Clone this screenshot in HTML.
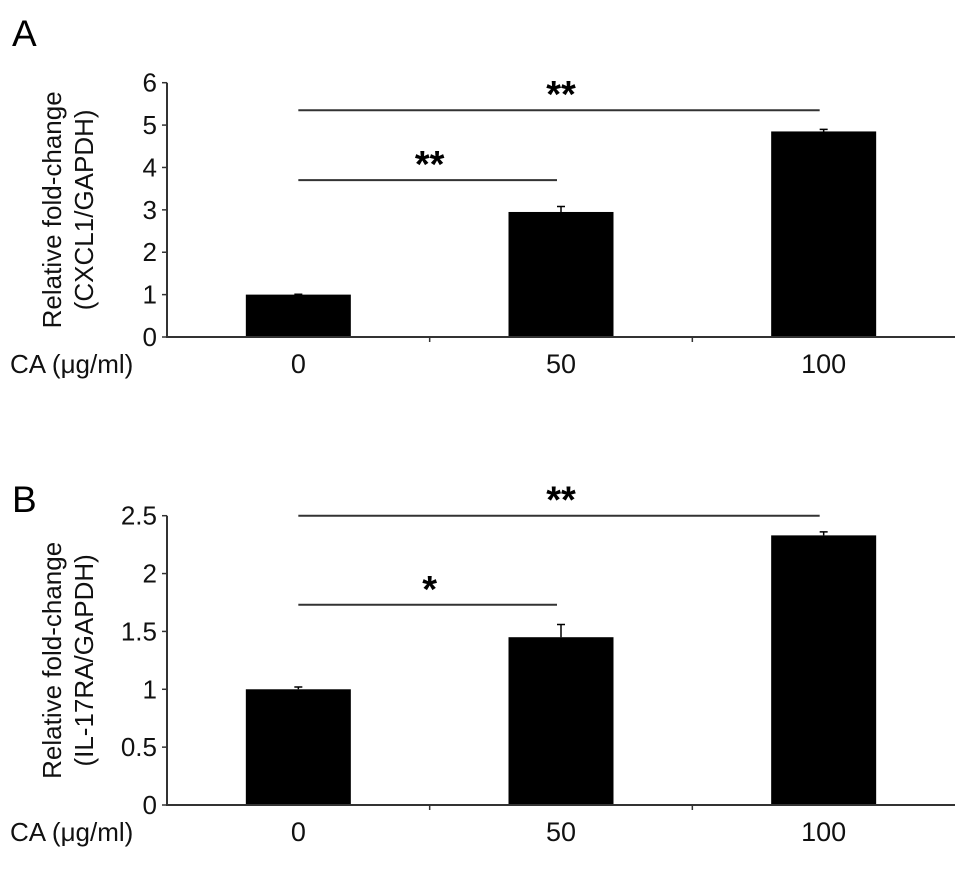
<!DOCTYPE html>
<html><head><meta charset="utf-8"><style>
html,body{margin:0;padding:0;background:#fff;}
svg{display:block;font-family:"Liberation Sans",Arial,sans-serif;}
</style></head><body>
<svg id="fig" width="969" height="872" viewBox="0 0 969 872"></svg>
<script>
const categories = ["0","50","100"];
const valuesA = [1.0, 2.95, 4.85];
const errorsA = [0.01, 0.13, 0.05];
const ticksA = [0,1,2,3,4,5,6];
const valuesB = [1.0, 1.45, 2.33];
const errorsB = [0.02, 0.11, 0.03];
const ticksB = [0,0.5,1,1.5,2,2.5];
const sigA = [{from:0,to:1,label:"**",level:3.7},{from:0,to:2,label:"**",level:5.35}];
const sigB = [{from:0,to:1,label:"*",level:1.73},{from:0,to:2,label:"**",level:2.5}];

const svg = document.getElementById('fig');
const NS = "http://www.w3.org/2000/svg";
function mk(tag, attrs, parent){const e=document.createElementNS(NS,tag);for(const k in attrs)e.setAttribute(k,attrs[k]);(parent||svg).appendChild(e);return e;}

function panel(cfg){
  const g = mk('g',{});
  
  
  const x0=167, x1=955, y0=cfg.y0, yTop=cfg.yTop, max=cfg.ticks[cfg.ticks.length-1];
  const yS = v => y0 - (v/max)*(y0-yTop);
  const band = (x1-x0)/categories.length;
  const xC = i => x0 + band*(i+0.5);
  const bw = 105;
  const L = mk('text',{x:12,y:cfg.letterY,'font-size':37,fill:'#000'},g); L.textContent=cfg.letter;
  
  
  cfg.values.forEach((v,i)=>{
    const r = mk('rect',{x:xC(i)-bw/2,y:yS(v),width:bw,height:y0-yS(v),fill:'#000'},g);
    
    
    const e = cfg.errors[i];
    const eb = mk('path',{d:`M${xC(i)} ${yS(v)} V${yS(v+e)} M${xC(i)-4} ${yS(v+e)} H${xC(i)+4}`,stroke:'#000','stroke-width':1.5,fill:'none'},g);
    
    
  });
  const ax = mk('path',{d:`M${x0} ${yTop} V${y0} H${x1}`,stroke:'#333','stroke-width':2,fill:'none'},g);
  
  
  cfg.ticks.forEach(t=>{
    mk('line',{x1:x0-5,x2:x0,y1:yS(t),y2:yS(t),stroke:'#333','stroke-width':1.5},g);
    const tl = mk('text',{x:x0-10,y:yS(t)+9,'font-size':26,'text-anchor':'end',fill:'#111'},g);
    tl.textContent = String(t);
    
    
  });
  for(let i=1;i<categories.length;i++) mk('line',{x1:x0+band*i,x2:x0+band*i,y1:y0,y2:y0+5,stroke:'#333','stroke-width':1.5},g);
  categories.forEach((c,i)=>{
    const t = mk('text',{x:xC(i),y:y0+36,'font-size':27,'text-anchor':'middle',fill:'#111'},g);
    t.textContent=c;
    
    
  });
  const ca = mk('text',{x:10,y:y0+36,'font-size':26,fill:'#111'},g); ca.textContent='CA (\u03bcg/ml)';
  
  
  const cy = (y0+yTop)/2;
  const yt = mk('text',{transform:`translate(61 ${cy}) rotate(-90)`,'font-size':26,'text-anchor':'middle',fill:'#111'},g);
  yt.textContent='Relative fold-change';
  
  
  const yt2 = mk('text',{transform:`translate(93 ${cy}) rotate(-90)`,'font-size':26,'text-anchor':'middle',fill:'#111'},g);
  yt2.textContent=cfg.ylabel2;
  
  
  cfg.sig.forEach(s=>{
    const y=yS(s.level);
    const ln = mk('line',{x1:xC(s.from),x2:xC(s.to)-4,y1:y,y2:y,stroke:'#333','stroke-width':2},g);
    
    
    const st = mk('text',{x:(xC(s.from)+xC(s.to))/2,y:y-3,'font-size':38,'font-weight':'bold','text-anchor':'middle',fill:'#000'},g);
    st.textContent=s.label;
    
    
  });
}
panel({name:'panel-a',letter:'A',letterY:46,y0:337,yTop:82.7,values:valuesA,errors:errorsA,ticks:ticksA,sig:sigA,ylabel2:'(CXCL1/GAPDH)'});
panel({name:'panel-b',letter:'B',letterY:512,y0:805,yTop:515.7,values:valuesB,errors:errorsB,ticks:ticksB,sig:sigB,ylabel2:'(IL-17RA/GAPDH)'});
</script>
</body></html>
